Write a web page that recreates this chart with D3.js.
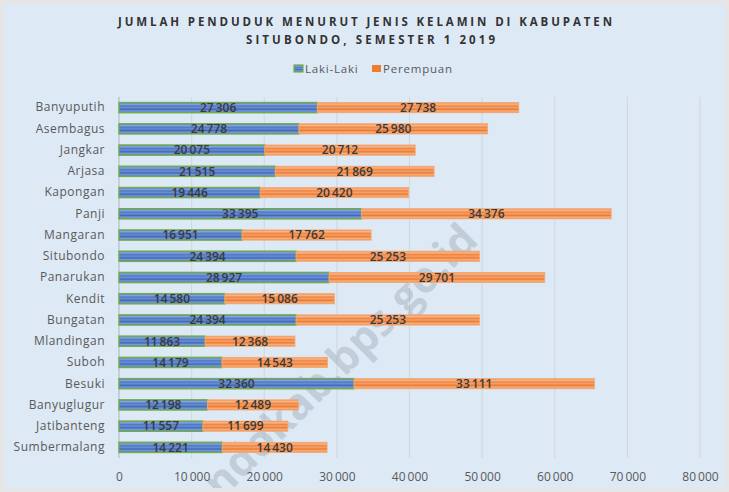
<!DOCTYPE html>
<html>
<head>
<meta charset="utf-8">
<script src="https://cdn.jsdelivr.net/npm/d3@7"></script>
<style>
  body { margin: 0; background: #e6e6e6; }
  svg { display: block; }
</style>
</head>
<body>
<div class="chart-container"></div>
<script>
// Data
const kecamatan = ['Banyuputih', 'Asembagus', 'Jangkar', 'Arjasa', 'Kapongan', 'Panji', 'Mangaran',
    'Situbondo', 'Panarukan', 'Kendit', 'Bungatan', 'Mlandingan', 'Suboh', 'Besuki',
    'Banyuglugur', 'Jatibanteng', 'Sumbermalang'];
const lakiLaki = [27306, 24778, 20075, 21515, 19446, 33395, 16951, 24394, 28927, 14580, 24394,
    11863, 14179, 32360, 12198, 11557, 14221];
const perempuan = [27738, 25980, 20712, 21869, 20420, 34376, 17762, 25253, 29701, 15086, 25253,
    12368, 14543, 33111, 12489, 11699, 14430];
const xTicks = [0, 10000, 20000, 30000, 40000, 50000, 60000, 70000, 80000];
const seriesNames = ['Laki-Laki', 'Perempuan'];

const outerWidth = 729;
const outerHeight = 492;
const plot = { left: 119, right: 700, top: 97, bottom: 458 };

const fmt = d3.formatLocale({ decimal: ',', thousands: '\u2009', grouping: [3], currency: ['', ''] }).format(',d');

const svg = d3.select('.chart-container').append('svg')
    .attr('width', outerWidth)
    .attr('height', outerHeight);

// gradients for the striped bars
const defs = svg.append('defs');
function stripes(id, colors) {
    const g = defs.append('linearGradient').attr('id', id)
        .attr('x1', 0).attr('y1', 0).attr('x2', 0).attr('y2', 1);
    colors.forEach((c, i) => {
        g.append('stop').attr('offset', i / (colors.length - 1)).attr('stop-color', c);
    });
}
stripes('gradBlue', ['#4a73c0', '#8aa6dc', '#4f78c6', '#6a8ed3', '#3f68b8', '#7b9bd8', '#4a73c0']);
stripes('gradOrange', ['#f08a45', '#f8b98c', '#ef8540', '#f5a06a', '#ec7a30', '#f7b07e', '#f08a45']);

const clip = defs.append('clipPath').attr('id', 'frame');
clip.append('rect').attr('x', 4).attr('y', 4).attr('width', 721).attr('height', 484);

// background frame
svg.append('rect')
    .attr('x', 4).attr('y', 4)
    .attr('width', 721).attr('height', 484)
    .attr('fill', '#dde9f5');

// Scales
const x = d3.scaleLinear().domain([0, 80000]).range([plot.left, plot.right]);
const y = d3.scaleBand().domain(kecamatan).range([plot.top, plot.bottom]).paddingInner(0.52).paddingOuter(0.26);

// gridlines
svg.append('g').selectAll('line')
    .data(xTicks.slice(1))
    .join('line')
    .attr('x1', d => x(d)).attr('x2', d => x(d))
    .attr('y1', plot.top).attr('y2', plot.bottom)
    .attr('stroke', '#cfd6de')
    .attr('stroke-width', 1);

// watermark, clipped to the frame
svg.append('g')
    .attr('clip-path', 'url(#frame)')
    .append('text')
    .attr('transform', 'translate(480, 242) rotate(-45)')
    .attr('text-anchor', 'end')
    .attr('fill', '#8e9aa6')
    .attr('fill-opacity', 0.36)
    .style('font-family', '"Open Sans", sans-serif')
    .style('font-size', '43px')
    .style('font-weight', 700)
    .text('situbondokab.bps.go.id');

// x axis
const xAxis = d3.axisBottom(x).tickValues(xTicks).tickFormat(fmt).tickSize(0).tickPadding(14);
const gx = svg.append('g')
    .attr('transform', `translate(0, ${plot.bottom})`)
    .call(xAxis);
gx.select('.domain').remove();
gx.selectAll('text')
    .attr('fill', '#595959')
    .style('font-family', '"Open Sans", sans-serif')
    .style('font-size', '12px');

// y axis
const yAxis = d3.axisLeft(y).tickSize(0).tickPadding(14);
const gy = svg.append('g')
    .attr('transform', `translate(${plot.left}, 0)`)
    .call(yAxis);
gy.select('.domain').remove();
gy.selectAll('text')
    .attr('fill', '#595959')
    .style('font-family', '"Open Sans", sans-serif')
    .style('font-size', '12px')
    .style('letter-spacing', '0.5px');

svg.append('line')
    .attr('x1', plot.left).attr('x2', plot.left)
    .attr('y1', plot.top).attr('y2', plot.bottom)
    .attr('stroke', '#b8bec6')
    .attr('stroke-width', 1.2);

// bars
const rows = kecamatan.map((k, i) => ({ k, l: lakiLaki[i], p: perempuan[i] }));
const bars = svg.append('g');

bars.selectAll('.bar-l')
    .data(rows)
    .join('rect')
    .attr('class', 'bar-l')
    .attr('x', x(0))
    .attr('y', d => y(d.k))
    .attr('width', d => x(d.l) - x(0))
    .attr('height', y.bandwidth())
    .attr('fill', 'url(#gradBlue)')
    .attr('stroke', '#70ad47')
    .attr('stroke-width', 1.4);

bars.selectAll('.bar-p')
    .data(rows)
    .join('rect')
    .attr('class', 'bar-p')
    .attr('x', d => x(d.l))
    .attr('y', d => y(d.k))
    .attr('width', d => x(d.l + d.p) - x(d.l))
    .attr('height', y.bandwidth())
    .attr('fill', 'url(#gradOrange)')
    .attr('stroke', '#f3a877')
    .attr('stroke-width', 0.8);

// value labels
const labelStyle = sel => sel
    .attr('text-anchor', 'middle')
    .attr('dy', '0.36em')
    .attr('fill', '#3a3a3a')
    .style('font-family', '"Open Sans", sans-serif')
    .style('font-size', '12px')
    .style('font-weight', 600);

bars.selectAll('.lab-l')
    .data(rows)
    .join('text')
    .attr('class', 'lab-l')
    .attr('x', d => x(d.l / 2))
    .attr('y', d => y(d.k) + y.bandwidth() / 2)
    .text(d => fmt(d.l))
    .call(labelStyle);

bars.selectAll('.lab-p')
    .data(rows)
    .join('text')
    .attr('class', 'lab-p')
    .attr('x', d => x(d.l + d.p / 2))
    .attr('y', d => y(d.k) + y.bandwidth() / 2)
    .text(d => fmt(d.p))
    .call(labelStyle);

// title
const title = svg.append('g')
    .attr('fill', '#333333')
    .style('font-family', '"Open Sans", sans-serif')
    .style('font-size', '11.5px')
    .style('font-weight', 700);
title.append('text')
    .attr('x', 118).attr('y', 26)
    .attr('textLength', 494)
    .text('JUMLAH PENDUDUK MENURUT JENIS KELAMIN DI KABUPATEN');
title.append('text')
    .attr('x', 246).attr('y', 44)
    .attr('textLength', 249)
    .text('SITUBONDO, SEMESTER 1 2019');

// legend
const legendColors = ['url(#gradBlue)', '#ed7d31'];
const legendStroke = ['#70ad47', 'none'];
const legendX = [294, 372];
const legend = svg.append('g').selectAll('g')
    .data(seriesNames)
    .join('g')
    .attr('transform', (d, i) => `translate(${legendX[i]}, 65)`);
legend.append('rect')
    .attr('width', 9).attr('height', 7)
    .attr('fill', (d, i) => legendColors[i])
    .attr('stroke', (d, i) => legendStroke[i])
    .attr('stroke-width', 1.2);
legend.append('text')
    .attr('x', 11).attr('y', 8)
    .attr('fill', '#595959')
    .style('font-family', '"Open Sans", sans-serif')
    .style('font-size', '11.5px')
    .style('letter-spacing', '0.8px')
    .text(d => d);
</script>
</body>
</html>
